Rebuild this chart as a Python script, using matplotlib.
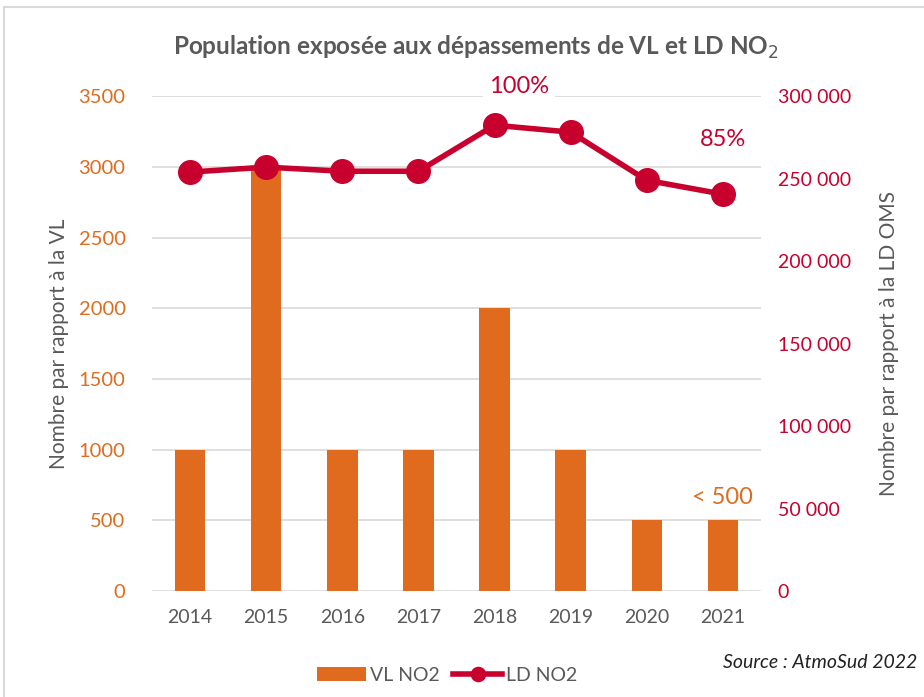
import matplotlib
matplotlib.use("Agg")
import matplotlib.pyplot as plt
from matplotlib.patches import Rectangle
from matplotlib.ticker import FuncFormatter

plt.rcParams["font.family"] = ["Lato", "DejaVu Sans"]

years = ["2014", "2015", "2016", "2017", "2018", "2019", "2020", "2021"]
vl_no2 = [1000, 3000, 1000, 1000, 2000, 1000, 500, 500]
ld_no2 = [254000, 257000, 254500, 254500, 282400, 278200, 249000, 240600]

ORANGE = "#E06B1F"
RED = "#C8002D"
GREY = "#595959"

fig = plt.figure(figsize=(9.24, 6.97), dpi=100)
fig.patches.append(Rectangle((0.004, -0.01), 1.0, 1.0, transform=fig.transFigure,
                             fill=False, edgecolor="#d9d9d9", linewidth=1.5))
ax = fig.add_axes([0.1645, 0.152, 0.659, 0.710])
ax2 = ax.twinx()

x = range(len(years))
ax.bar(x, vl_no2, 0.4, color=ORANGE, zorder=2, label="VL NO2")
ax2.plot(x, ld_no2, "-o", color=RED, lw=4, ms=17, zorder=3, label="LD NO2")

ax.set_ylim(0, 3500)
ax.set_yticks(range(0, 3501, 500))
ax2.set_ylim(0, 300000)
ax2.set_yticks(range(0, 300001, 50000))
ax2.yaxis.set_major_formatter(FuncFormatter(lambda v, p: f"{int(v):,}".replace(",", " ")))
ax.set_xlim(-0.5, len(years) - 0.5)
ax.set_xticks(list(x))
ax.set_xticklabels(years)

ax.grid(True, axis="y", color="#d9d9d9", lw=1.2, zorder=0)
ax.set_axisbelow(True)
ax.set_zorder(ax2.get_zorder() - 1)
ax2.patch.set_visible(False)
for a in (ax, ax2):
    for s in a.spines.values():
        s.set_visible(False)
    a.tick_params(length=0)
ax.tick_params(axis="y", labelcolor=ORANGE, labelsize=14.5, pad=19)
ax.tick_params(axis="x", labelcolor=GREY, labelsize=14, pad=13)
ax2.tick_params(axis="y", labelcolor=RED, labelsize=14, pad=12)

ax.set_ylabel("Nombre par rapport à la VL", color=GREY, fontsize=15, labelpad=7)
ax2.set_ylabel("Nombre par rapport à la LD OMS", color=GREY, fontsize=15, labelpad=20)

fig.text(0.515, 0.932, r"Population exposée aux dépassements de VL et LD NO$_2$",
         ha="center", va="center", color=GREY, fontsize=17.5, fontweight="bold")

ax2.text(4.32, 306000, "100%", color=RED, fontsize=17, ha="center", va="center",
         bbox=dict(facecolor="white", edgecolor="none", pad=4))
ax2.text(7, 274000, "85%", color=RED, fontsize=17, ha="center", va="center")
ax.text(7, 665, "< 500", color=ORANGE, fontsize=17, ha="center", va="center")

fig.legend(loc="center", bbox_to_anchor=(0.484, 0.031), ncol=2, frameon=False,
           fontsize=14, labelcolor=GREY, handlelength=2.5, columnspacing=0.7,
           handletextpad=0.2, markerscale=0.6)
fig.text(0.993, 0.05, "Source : AtmoSud 2022", ha="right", va="center",
         fontsize=14, style="italic", color="#222222")

fig.savefig("out.png", dpi=100)
